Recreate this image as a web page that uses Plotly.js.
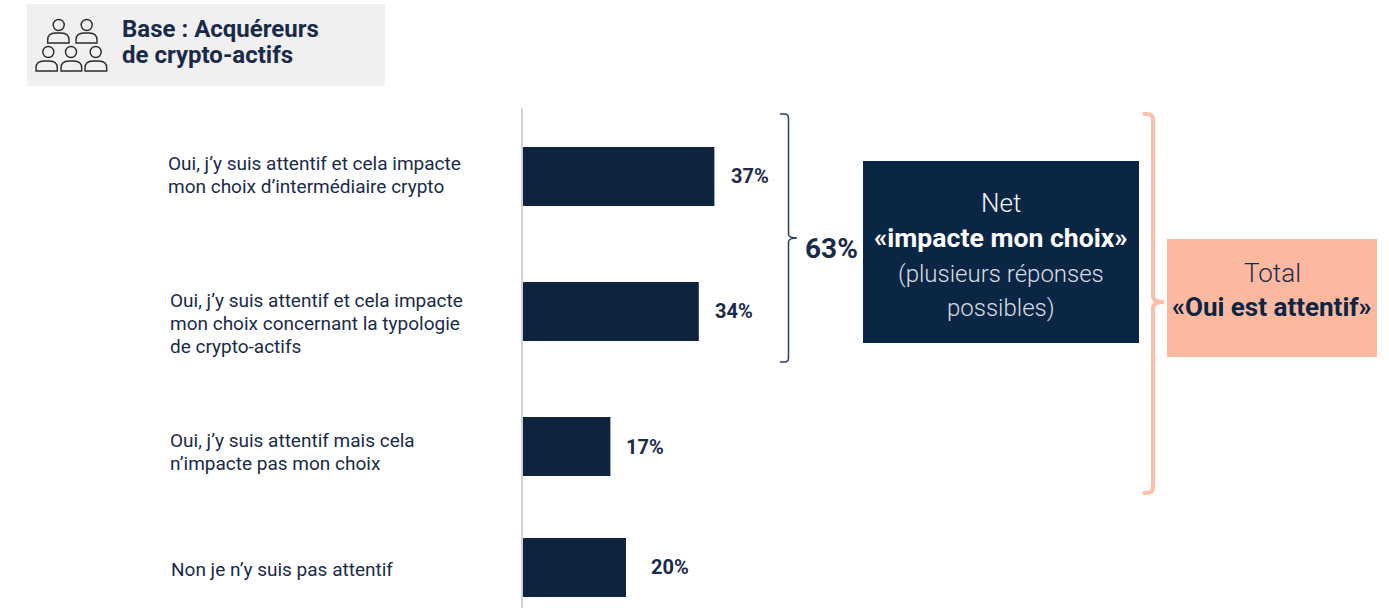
<!DOCTYPE html>
<html lang="fr">
<head>
<meta charset="utf-8">
<title>Base : Acquéreurs de crypto-actifs</title>
<script src="https://cdn.plot.ly/plotly-3.0.1.min.js"></script>
<style>html,body{margin:0;padding:0;background:#fff}#chart{width:1389px;height:608px}</style>
</head>
<body>
<div id="chart"></div>
<script>
// Answers and their shares, in percent
const categories = [
  "Oui, j’y suis attentif et cela impacte<br>mon choix d’intermédiaire crypto",
  "Oui, j’y suis attentif et cela impacte<br>mon choix concernant la typologie<br>de crypto-actifs",
  "Oui, j’y suis attentif mais cela<br>n’impacte pas mon choix",
  "Non je n’y suis pas attentif"
];
const values = [37, 34, 17, 20];
const valueLabels = ["37%", "34%", "17%", "20%"];
const netLabel = "63%";
const headerLines = ["Base : Acquéreurs", "de crypto-actifs"];

// Vertical slots of the rows (the last row sits a little closer)
const rows = [0, 1, 2, 2.896];
const labelLefts = [166, 168, 168, 169];
const labelFirstLines = [163, 300.5, 440, 569];
const valueGaps = [15, 14, 14, 23];

const W = 1389, H = 608;
const PX_PER_UNIT = 5.2, AXIS_X = 522;
const LINE_STEP = 23;
const navy = "#0f233f", boxNavy = "#0a2644", peach = "#fdb9a0", bracePeach = "#fdbfa8", ink = "#1a2b49";
const FONT = "Roboto, sans-serif";

// Pixel position on the page to paper coordinates
const X = p => p / W;
const Y = p => 1 - p / H;
const pt = (x, y) => X(x).toFixed(5) + " " + Y(y).toFixed(5);

const shapes = [];
const annotations = [];

function rect(x0, y0, x1, y1, fill) {
  shapes.push({type: "rect", xref: "paper", yref: "paper", x0: X(x0), x1: X(x1), y0: Y(y0), y1: Y(y1),
    fillcolor: fill, line: {width: 0}, layer: "below"});
}

function pathShape(d, color, width) {
  shapes.push({type: "path", xref: "paper", yref: "paper", path: d, line: {color: color, width: width}});
}

// Right-facing curly brace with a small point at its middle
function brace(tipL, x, tipR, top, mid, bottom, r, color, width) {
  const d = "M " + pt(tipL, top) +
    " L " + pt(x - r, top) + " Q " + pt(x, top) + " " + pt(x, top + r) +
    " L " + pt(x, mid - r) + " Q " + pt(x, mid) + " " + pt(tipR, mid) +
    " Q " + pt(x, mid) + " " + pt(x, mid + r) +
    " L " + pt(x, bottom - r) + " Q " + pt(x, bottom) + " " + pt(x - r, bottom) +
    " L " + pt(tipL, bottom);
  pathShape(d, color, width);
}

// Small person pictogram: a head above domed shoulders
function person(cx, headY, left, right, top, bottom) {
  const c = "#2b2b2b";
  shapes.push({type: "circle", xref: "paper", yref: "paper", x0: X(cx - 5.5), x1: X(cx + 5.5),
    y0: Y(headY - 5.5), y1: Y(headY + 5.5), line: {color: c, width: 1.4}});
  const d = "M " + pt(left, bottom) + " L " + pt(left, top + 7) +
    " Q " + pt(left, top) + " " + pt(left + 8, top) +
    " L " + pt(right - 8, top) + " Q " + pt(right, top) + " " + pt(right, top + 7) +
    " L " + pt(right, bottom) + " Z";
  pathShape(d, c, 1.4);
}

function text(t, x, y, size, color, opts) {
  annotations.push(Object.assign({
    text: t, xref: "paper", yref: "paper", x: X(x), y: Y(y), showarrow: false,
    xanchor: "center", yanchor: "middle", align: "center",
    font: {family: FONT, size: size, color: color}
  }, opts || {}));
}

const light = (size, color) => ({font: {family: FONT, size: size, color: color, weight: 300}});

// Header tag
rect(27, 4, 385, 86, "#f0f0f0");
person(58.7, 25, 47.7, 69, 33, 43);
person(86.7, 25, 76, 97, 33, 43);
person(48.3, 52, 36, 57.3, 61, 71);
person(71, 52, 61, 81.7, 61, 71);
person(95.7, 52, 85, 106.7, 61, 71);
headerLines.forEach((line, i) => {
  text("<b>" + line + "</b>", 120, 29 + 26 * i, 24, ink, {xanchor: "left", align: "left"});
});

// Row labels, one annotation per line to hold the tight leading
categories.forEach((c, i) => {
  c.split("<br>").forEach((line, j) => {
    text(line, labelLefts[i], labelFirstLines[i] + LINE_STEP * j, 19, ink, {xanchor: "left", align: "left"});
  });
});

// Value labels, anchored on the end of each bar
values.forEach((v, i) => {
  annotations.push({
    text: "<b>" + valueLabels[i] + "</b>", xref: "x", yref: "y", x: v, y: rows[i],
    xshift: valueGaps[i], showarrow: false, xanchor: "left", yanchor: "middle",
    font: {family: FONT, size: 20, color: ink}
  });
});

// Net bracket and box
brace(780, 788.5, 797, 114, 238, 362, 4, "#2c4060", 1.5);
text("<b>" + netLabel + "</b>", 831, 248, 28, ink);
rect(863, 161, 1139, 343, boxNavy);
text("Net", 1001, 203, 26, "#f4f5f7", light(26, "#f4f5f7"));
text("<b>«impacte mon choix»</b>", 1001, 237.5, 26.6, "#ffffff");
text("(plusieurs réponses", 1001, 274, 24, "#d9dde3", light(24, "#d9dde3"));
text("possibles)", 1001, 308, 24, "#d9dde3", light(24, "#d9dde3"));

// Total bracket and box
brace(1143, 1153, 1164, 114, 302, 493, 6, bracePeach, 4);
rect(1167, 239, 1377, 357, peach);
text("Total", 1272, 273, 26, ink, light(26, ink));
text("<b>«Oui est attentif»</b>", 1272, 307, 26, boxNavy);

const trace = {
  type: "bar", orientation: "h",
  x: values, y: rows, width: 59 / 135,
  marker: {color: navy, line: {width: 0}},
  hoverinfo: "x"
};

const layout = {
  width: W, height: H,
  margin: {l: 0, r: 0, t: 0, b: 0},
  paper_bgcolor: "#fff", plot_bgcolor: "rgba(0,0,0,0)",
  showlegend: false,
  xaxis: {
    range: [-AXIS_X / PX_PER_UNIT, (W - AXIS_X) / PX_PER_UNIT],
    visible: false, fixedrange: true
  },
  yaxis: {
    domain: [0, 500 / H], range: [3.196, -0.507],
    anchor: "free", position: AXIS_X / W,
    showline: true, linecolor: "#d2d2d2", linewidth: 2,
    showgrid: false, zeroline: false, showticklabels: false, ticks: "", fixedrange: true
  },
  shapes: shapes,
  annotations: annotations
};

Plotly.newPlot("chart", [trace], layout, {displayModeBar: false, responsive: false});
</script>
</body>
</html>
